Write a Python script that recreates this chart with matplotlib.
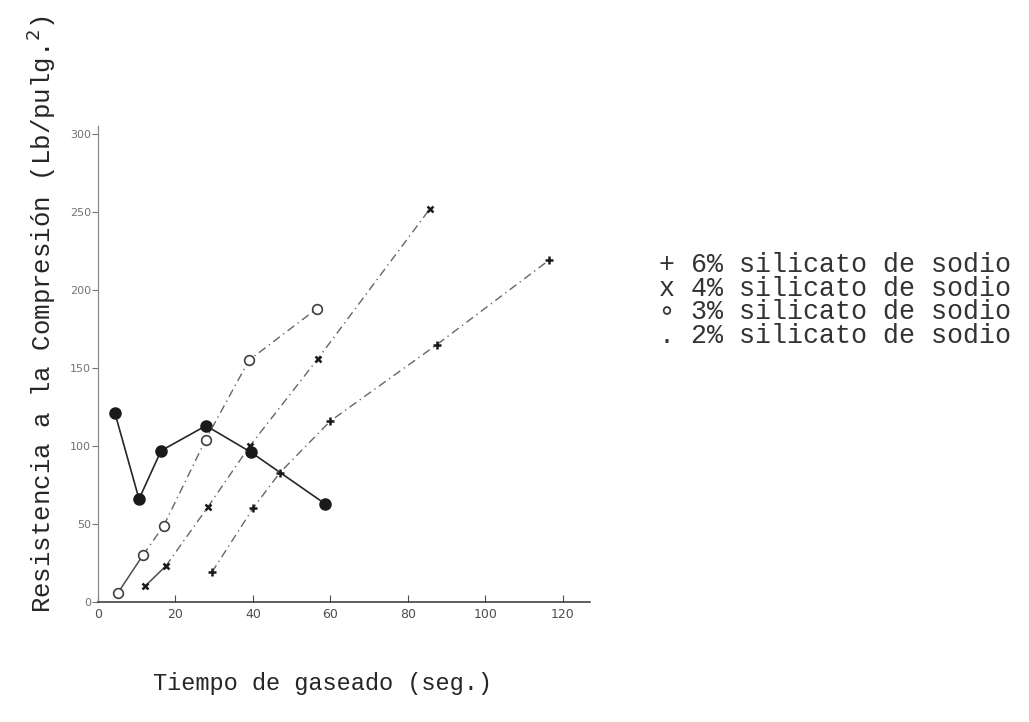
import matplotlib
matplotlib.use("Agg")
import matplotlib.pyplot as plt

# tiempo de gaseado (seg.) vs resistencia (Lb/pulg.2)
t_2 = [4.4, 10.6, 16.3, 27.9, 39.5, 58.6]
r_2 = [121, 66, 97, 113, 96, 63]

t_3 = [5.2, 11.6, 17.0, 27.8, 39.0, 56.5]
r_3 = [6, 30, 49, 104, 155, 188]

t_4 = [12.1, 17.5, 28.4, 39.2, 56.8, 85.7]
r_4 = [10, 23, 61, 100, 156, 252]

t_6 = [29.4, 40.0, 47.0, 60.0, 87.5, 116.4]
r_6 = [19, 60, 83, 116, 165, 219]

xticks = [0, 20, 40, 60, 80, 100, 120]
yticks = [0, 50, 100, 150, 200, 250, 300]

legend_lines = ["+ 6% silicato de sodio",
                "x 4% silicato de sodio",
                "\u2218 3% silicato de sodio",
                ". 2% silicato de sodio"]

mono = ["Liberation Mono", "DejaVu Sans Mono", "DejaVu Sans"]

fig = plt.figure(figsize=(10.29, 7.22), dpi=100)
ax = fig.add_axes([0.0952, 0.1662, 0.478, 0.659])

dd = (0, (6, 3, 1, 3))
# 2% : filled dots, solid line
ax.plot(t_2, r_2, color="0.15", lw=1.2, marker="o", ms=8, mfc="0.1", mec="0.1")
# 3% : open circles
ax.plot(t_3[:2], r_3[:2], color="0.3", lw=1.1)
ax.plot(t_3[1:], r_3[1:], color="0.4", lw=1.0, ls=dd)
ax.plot(t_3, r_3, ls="none", marker="o", ms=7, mfc="white", mec="0.25", mew=1.2)
# 4% : crosses
ax.plot(t_4[:2], r_4[:2], color="0.3", lw=1.1)
ax.plot(t_4[1:], r_4[1:], color="0.4", lw=1.0, ls=dd)
ax.plot(t_4, r_4, ls="none", marker="x", ms=5, mec="0.1", mew=1.8)
# 6% : plus
ax.plot(t_6, r_6, color="0.4", lw=1.0, ls=dd)
ax.plot(t_6, r_6, ls="none", marker="+", ms=6, mec="0.1", mew=1.8)

ax.set_xlim(0, 127)
ax.set_ylim(0, 305)
ax.set_xticks(xticks)
ax.set_yticks(yticks)
ax.set_xticklabels([str(v) for v in xticks], fontsize=9, color="0.3")
ax.set_yticklabels([str(v) for v in yticks], fontsize=8, color="0.45")
ax.tick_params(axis="x", direction="in", length=5, color="0.3", pad=4)
ax.tick_params(axis="y", direction="out", length=4, color="0.45", pad=1)
for s in ["top", "right"]:
    ax.spines[s].set_visible(False)
ax.spines["bottom"].set_color("0.2")
ax.spines["bottom"].set_linewidth(1.1)
ax.spines["left"].set_color("0.55")
ax.spines["left"].set_linewidth(0.9)

fig.text(0.313, 0.054, "Tiempo de gaseado (seg.)", family=mono, fontsize=17,
         ha="center", va="center", color="0.15")
fig.text(0.040, 0.565, "Resistencia a la Compresión (Lb/pulg.$^2$)", family=mono,
         fontsize=18.5, rotation=90, ha="center", va="center", color="0.15")

for i, line in enumerate(legend_lines):
    fig.text(0.640, 1 - (265 + 23.5 * i) / 722, line, family=mono, fontsize=19.2,
             ha="left", va="center", color="0.2")

fig.savefig("out.png", dpi=100)
